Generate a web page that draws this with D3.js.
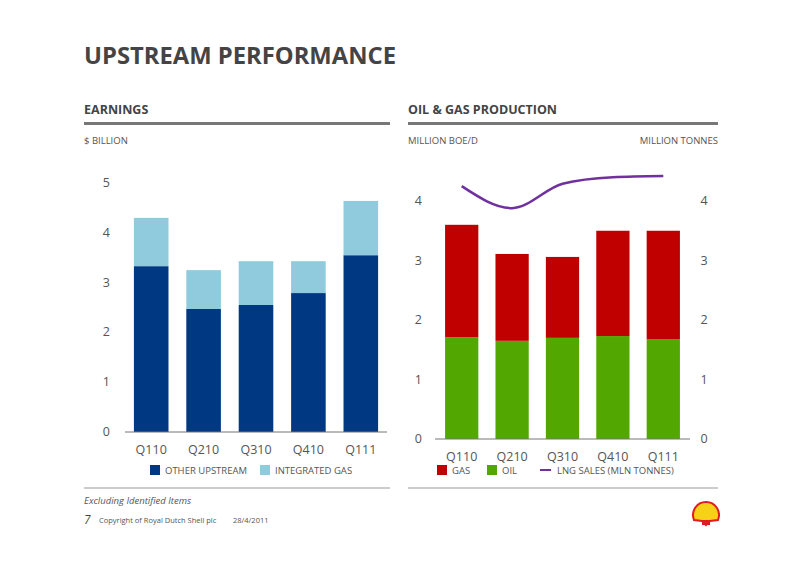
<!DOCTYPE html>
<html><head><meta charset="utf-8">
<script src="https://cdn.jsdelivr.net/npm/d3@7.9.0/dist/d3.min.js"></script>
<style>body{margin:0;background:#fff}text{font-family:"Open Sans",sans-serif}</style>
</head><body>
<svg id="c" width="800" height="566"></svg>
<script>
// Data
const quarters = ['Q110', 'Q210', 'Q310', 'Q410', 'Q111'];
const otherUpstream = [3.33, 2.47, 2.55, 2.79, 3.55];
const integratedGas = [0.97, 0.78, 0.88, 0.64, 1.09];
const oil = [1.71, 1.65, 1.70, 1.73, 1.68];
const gas = [1.89, 1.46, 1.36, 1.77, 1.82];
const lngSales = [4.25, 3.88, 4.29, 4.40, 4.42];
const leftTicks = [0, 1, 2, 3, 4, 5];
const rightTicks = [0, 1, 2, 3, 4];

const svg = d3.select('#c');
const grey = '#555';

// Header
svg.append('text').attr('x', 84).attr('y', 64).text('UPSTREAM PERFORMANCE')
  .attr('font-size', 24).attr('font-weight', 700).attr('fill', '#444')
  .attr('textLength', 312).attr('lengthAdjust', 'spacingAndGlyphs');

function sectionHead(x, w, title) {
  svg.append('text').attr('x', x).attr('y', 114).text(title)
    .attr('font-size', 12.5).attr('font-weight', 700).attr('fill', '#444');
  svg.append('rect').attr('x', x).attr('y', 122).attr('width', w).attr('height', 3).attr('fill', '#777');
}
sectionHead(84, 306, 'EARNINGS');
sectionHead(408, 310, 'OIL & GAS PRODUCTION');
svg.append('text').attr('x', 84).attr('y', 144).text('$ BILLION').attr('font-size', 9.5).attr('fill', grey);
svg.append('text').attr('x', 408).attr('y', 144).text('MILLION BOE/D').attr('font-size', 9.5).attr('fill', grey);
svg.append('text').attr('x', 718).attr('y', 144).attr('text-anchor', 'end').text('MILLION TONNES').attr('font-size', 9.5).attr('fill', grey);

// Earnings chart
const x1 = d3.scaleBand().domain(quarters).range([125, 387]).paddingInner(0.34).paddingOuter(0.17);
const y1 = d3.scaleLinear().domain([0, 5]).range([432, 183]);
const stack1 = d3.stack().keys(['o', 'g'])(quarters.map((q, i) => ({q, o: otherUpstream[i], g: integratedGas[i]})));
const col1 = ['#003882', '#8fcbdc'];
stack1.forEach((s, k) => {
  svg.append('g').selectAll('rect').data(s).join('rect')
    .attr('x', d => x1(d.data.q)).attr('width', x1.bandwidth())
    .attr('y', d => y1(d[1])).attr('height', d => y1(d[0]) - y1(d[1])).attr('fill', col1[k]);
});
svg.append('line').attr('x1', 125).attr('x2', 387).attr('y1', y1(0)).attr('y2', y1(0)).attr('stroke', '#777').attr('stroke-width', 1.2);
svg.append('g').selectAll('text').data(leftTicks).join('text')
  .attr('x', 110).attr('y', d => y1(d) + 4).attr('text-anchor', 'end').text(d => d)
  .attr('font-size', 12.5).attr('fill', grey);
svg.append('g').selectAll('text').data(quarters).join('text')
  .attr('x', d => x1(d) + x1.bandwidth() / 2).attr('y', 454).attr('text-anchor', 'middle').text(d => d)
  .attr('font-size', 12.5).attr('fill', grey);

// Production chart
const x2 = d3.scaleBand().domain(quarters).range([435, 690]).paddingInner(0.34).paddingOuter(0.2);
const y2 = d3.scaleLinear().domain([0, 4]).range([439, 201]);
const stack2 = d3.stack().keys(['oil', 'gas'])(quarters.map((q, i) => ({q, oil: oil[i], gas: gas[i]})));
const col2 = ['#52a800', '#c00000'];
stack2.forEach((s, k) => {
  svg.append('g').selectAll('rect').data(s).join('rect')
    .attr('x', d => x2(d.data.q)).attr('width', x2.bandwidth())
    .attr('y', d => y2(d[1])).attr('height', d => y2(d[0]) - y2(d[1])).attr('fill', col2[k]);
});
svg.append('line').attr('x1', 435).attr('x2', 690).attr('y1', y2(0)).attr('y2', y2(0)).attr('stroke', '#777').attr('stroke-width', 1.2);
const line = d3.line().x((d, i) => x2(quarters[i]) + x2.bandwidth() / 2).y(d => y2(d)).curve(d3.curveMonotoneX);
svg.append('path').attr('d', line(lngSales)).attr('fill', 'none').attr('stroke', '#7030a0').attr('stroke-width', 2.5);
svg.append('g').selectAll('text').data(rightTicks).join('text')
  .attr('x', 422).attr('y', d => y2(d) + 4).attr('text-anchor', 'end').text(d => d)
  .attr('font-size', 12.5).attr('fill', grey);
svg.append('g').selectAll('text').data(rightTicks).join('text')
  .attr('x', 704).attr('y', d => y2(d) + 4).attr('text-anchor', 'middle').text(d => d)
  .attr('font-size', 12.5).attr('fill', grey);
svg.append('g').selectAll('text').data(quarters).join('text')
  .attr('x', d => x2(d) + x2.bandwidth() / 2).attr('y', 461).attr('text-anchor', 'middle').text(d => d)
  .attr('font-size', 12.5).attr('fill', grey);

// Legends
function swatch(x, y, c, label) {
  svg.append('rect').attr('x', x).attr('y', y - 9).attr('width', 10).attr('height', 10).attr('fill', c);
  svg.append('text').attr('x', x + 15).attr('y', y).text(label).attr('font-size', 9.5).attr('fill', grey);
}
swatch(150, 474, '#003882', 'OTHER UPSTREAM');
swatch(260, 474, '#8fcbdc', 'INTEGRATED GAS');
swatch(437, 474, '#c00000', 'GAS');
swatch(487, 474, '#52a800', 'OIL');
svg.append('line').attr('x1', 540).attr('x2', 551).attr('y1', 470).attr('y2', 470).attr('stroke', '#7030a0').attr('stroke-width', 2);
svg.append('text').attr('x', 557).attr('y', 474).text('LNG SALES (MLN TONNES)').attr('font-size', 9.5).attr('fill', grey);

// Footer
svg.append('line').attr('x1', 84).attr('x2', 390).attr('y1', 488).attr('y2', 488).attr('stroke', '#999');
svg.append('line').attr('x1', 408).attr('x2', 718).attr('y1', 488).attr('y2', 488).attr('stroke', '#999');
svg.append('text').attr('x', 84).attr('y', 504).text('Excluding Identified Items').attr('font-size', 9.5).attr('font-style', 'italic').attr('fill', grey);
svg.append('text').attr('x', 84).attr('y', 524).text('7').attr('font-size', 12).attr('font-style', 'italic').attr('fill', '#444');
svg.append('text').attr('x', 99).attr('y', 523).text('Copyright of Royal Dutch Shell plc').attr('font-size', 7.5).attr('fill', grey);
svg.append('text').attr('x', 233).attr('y', 523).text('28/4/2011').attr('font-size', 7.5).attr('fill', grey);

// Shell logo (simple pecten)
const logo = svg.append('g').attr('transform', 'translate(706,514)');
logo.append('path').attr('d', 'M-12,6 A13,13 0 1,1 12,6 L4,7 L0,11 L-4,7 Z').attr('fill', '#f7d117').attr('stroke', '#dd1d21').attr('stroke-width', 2);
logo.append('rect').attr('x', -4).attr('y', 6).attr('width', 8).attr('height', 5).attr('fill', '#dd1d21');
</script>
</body></html>
